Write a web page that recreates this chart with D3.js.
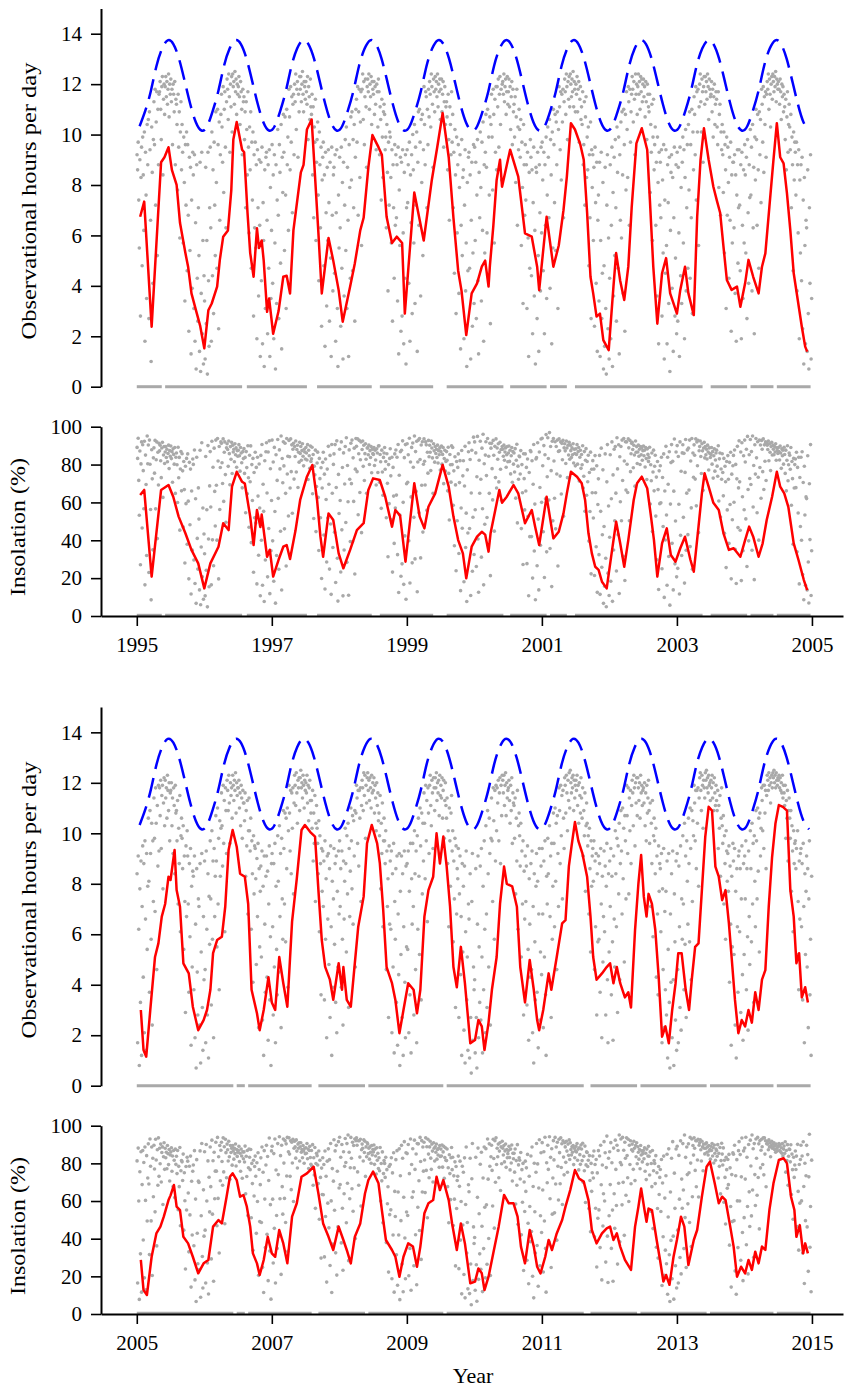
<!DOCTYPE html>
<html><head><meta charset="utf-8">
<script src="https://cdn.jsdelivr.net/npm/d3@7"></script>
<style>body{margin:0;background:#fff}svg{display:block;background:#fff}</style>
</head><body>
<script>
// ---------------- DATA ----------------
const dayLengthMonthly=[10.33,10.94,11.73,12.72,13.41,13.74,13.59,13.01,12.13,11.21,10.49,10.16];
const hoursTicks=[0,2,4,6,8,10,12,14];
const insolTicks=[0,20,40,60,80,100];
const yearTicksA=[1995,1997,1999,2001,2003,2005];
const yearTicksB=[2005,2007,2009,2011,2013,2015];
const yearsA=[1995,1996,1997,1998,1999,2000,2001,2002,2003,2004];
const yearsB=[2005,2006,2007,2008,2009,2010,2011,2012,2013,2014];
const hoursLabel="Observational hours per day";
const insolLabel="Insolation (%)";
const xLabel="Year";

// periods of zero-hour days (decimal years)
const zeroSpansA=[[1995.0,1995.37],[1995.42,1996.56],[1996.63,1997.52],[1997.67,1998.48],[1998.60,1999.39],[1999.59,2000.43],[2000.53,2001.07],[2001.12,2001.37],[2001.49,2003.38],[2003.50,2004.04],[2004.09,2004.43],[2004.48,2004.98]];
const zeroSpansB=[[2005.0,2006.43],[2006.48,2006.60],[2006.65,2007.59],[2007.69,2008.38],[2008.43,2009.54],[2009.59,2011.62],[2011.72,2012.41],[2012.46,2013.44],[2013.49,2014.43],[2014.48,2014.98]];

// daily observation samples, hours in tenths, month groups separated by |
const scatterHoursA=[
"92 86 97 74 55 90 28 83 95 48|99 84 62 101 18 93 76 35 104 88|106 27 109 94 66 10 103 85 41 98|113 96 118 72 105 117 52 110 88 116|117 121 110 98 119 123 84 114 120 108|119 123 115 121 112 118 124 107 120 116|122 113 118 96 120 116 109 121 88 114|112 104 78 116 95 109 59 101 113 86|104 93 57 99 81 34 96 72 101 46|96 68 22 91 54 87 13 74 39 93|84 31 92 18 65 7 88 43 26 71|52 14 89 6 37 93 21 58 9 44",
"34 11 87 25 58 5 93 42 16 71|95 63 18 101 44 86 29 97 72 52|109 81 47 110 96 23 105 66 92 108|116 103 89 119 77 110 117 95 63 113|122 118 106 124 115 93 120 111 123 101|124 119 121 112 125 117 122 108 120 116|119 123 115 104 121 117 110 92 118 113|115 98 109 71 113 102 84 117 95 61|103 86 109 47 97 74 101 28 92 63|97 55 88 19 94 71 36 90 64 12|89 42 95 17 73 58 8 86 31 91|93 66 21 88 47 94 12 79 35 62",
"96 41 84 19 92 57 7 88 33 74|102 68 27 96 85 49 104 15 91 77|108 93 54 107 76 31 110 88 99 62|118 107 86 119 97 115 69 112 116 92|120 113 124 102 118 121 91 116 109 123|118 123 113 120 125 116 109 121 119 114|121 117 112 123 98 119 115 106 122 111|108 116 84 111 67 103 97 114 58 89|98 105 76 42 101 88 63 95 24 82|91 97 48 84 16 93 69 32 87 58|94 73 26 89 51 12 95 68 38 84|87 45 92 18 69 94 31 8 76 55",
"91 63 24 95 47 81 11 89 36 72|98 54 103 31 87 66 12 96 79 43|107 82 109 46 98 71 104 26 91 110|114 97 119 68 109 118 83 105 117 56|118 124 106 121 96 115 122 111 87 119|122 117 124 110 120 115 123 104 121 118|116 121 108 119 112 94 120 117 103 122|117 92 111 106 74 114 99 83 109 112|108 94 99 63 104 85 38 97 72 101|99 83 57 94 26 88 71 43 96 64|92 67 88 34 95 13 78 56 91 22|89 28 94 61 17 85 43 92 9 71",
"94 73 88 41 97 18 84 65 92 29|100 86 57 104 33 95 72 101 14 89|109 64 110 97 36 106 81 108 52 94|119 104 88 117 115 71 110 96 118 107|121 116 103 124 119 112 87 122 117 109|123 118 121 115 124 111 120 117 122 106|118 122 109 116 121 95 113 119 104 111|113 107 86 116 98 66 111 104 92 117|97 108 71 93 45 102 84 29 99 61|88 96 37 79 92 15 64 98 52 83|86 19 72 94 38 57 8 81 46 91|93 47 84 11 66 89 24 53 96 33",
"95 58 89 27 76 98 42 13 85 67|101 79 34 97 62 105 18 88 53 93|108 87 61 110 44 99 76 107 25 104|116 99 78 118 108 57 114 93 119 86|119 111 122 95 116 123 104 118 82 120|121 116 124 113 119 122 108 117 123 112|117 122 111 119 102 115 121 96 118 109|112 99 115 81 107 118 64 103 94 110|102 91 106 56 97 79 33 104 88 68|96 74 88 31 93 59 12 85 47 98|91 44 86 21 73 95 36 62 9 87|85 27 93 52 14 88 69 38 95 61",
"97 82 46 93 21 88 64 99 35 76|103 91 67 106 39 98 84 17 101 55|110 96 73 108 54 105 88 109 31 102|119 111 94 117 82 116 105 118 67 113|122 117 108 124 119 98 121 114 123 111|124 120 115 122 117 125 111 121 118 109|120 116 123 109 118 121 97 114 119 106|111 104 117 88 96 113 72 107 115 83|99 86 103 48 92 67 105 27 94 79|92 58 87 24 95 73 41 89 14 66|76 34 89 12 58 93 27 45 81 7|48 16 87 31 5 72 92 23 59 11",
"43 88 19 64 95 8 77 36 91 52|98 71 26 103 85 47 99 13 92 66|105 59 109 84 37 110 96 22 108 78|117 102 83 119 113 64 118 97 109 116|123 118 105 121 114 92 124 116 120 108|119 124 116 121 110 123 117 122 113 120|122 115 119 107 121 113 98 120 116 111|109 116 77 104 93 112 58 99 114 86|96 103 64 89 36 99 81 17 93 72|89 67 94 28 82 53 96 11 74 45|94 56 17 88 73 33 91 6 62 85|92 39 83 14 67 95 28 51 88 21",
"93 26 87 61 12 95 44 79 33 89|99 57 94 19 83 102 38 71 96 47|104 78 109 43 96 67 110 29 101 86|115 108 92 119 74 117 101 118 56 111|120 124 113 101 122 117 89 119 123 112|123 117 121 114 124 119 106 122 118 115|116 121 109 118 99 115 120 104 112 117|114 103 96 117 79 108 112 68 101 94|104 92 77 101 53 96 86 31 99 68|95 81 43 91 66 97 22 84 57 89|89 63 92 37 84 18 76 94 49 71|94 72 46 88 19 93 64 35 86 57",
"96 84 53 91 27 98 69 41 88 75|102 76 95 38 104 63 87 21 99 82|110 98 64 108 86 47 109 92 106 73|118 112 97 119 85 115 104 117 91 116|121 118 124 110 122 116 103 120 123 114|124 121 117 123 119 125 113 122 120 118|121 118 112 122 117 106 120 115 119 109|116 111 98 114 86 107 117 93 104 112|103 94 108 71 99 88 46 101 82 97|93 76 97 38 88 61 94 19 82 53|88 42 91 23 74 9 83 56 17 66|63 14 86 29 7 71 41 92 11 35"
];
const scatterHoursB=[
"84 17 91 62 8 78 33 89 12 71|95 43 88 21 97 66 14 92 54 79|106 81 37 109 92 58 104 24 97 73|114 98 69 118 104 46 111 87 119 93|118 107 121 94 115 119 78 112 122 103|121 114 118 106 123 117 109 120 97 116|117 120 103 114 92 118 111 84 119 108|109 97 113 72 102 88 115 61 99 106|98 86 103 54 91 73 29 95 67 101|91 72 37 88 59 94 16 79 47 85|83 38 91 19 64 7 86 45 28 74|71 24 88 9 53 92 31 14 67 42",
"89 46 17 93 62 28 84 11 75 56|97 74 32 101 58 89 19 94 67 83|107 89 55 110 72 98 38 105 83 102|116 103 87 119 96 113 61 118 109 92|121 117 109 123 112 96 120 115 118 106|123 119 113 121 117 124 108 120 115 118|118 121 110 116 103 119 114 98 117 112|112 105 116 83 109 95 113 68 101 114|101 93 106 62 97 84 41 99 76 95|94 82 48 90 67 96 23 86 55 77|87 51 93 26 79 12 91 64 37 83|91 43 85 18 72 95 34 59 8 88",
"92 63 28 88 47 96 17 79 54 36|99 81 45 103 67 92 23 98 74 58|109 94 72 108 57 106 86 110 39 101|119 108 93 117 84 116 102 118 76 112|123 119 111 124 116 104 121 118 122 109|122 125 118 120 114 123 119 110 121 117|120 116 123 112 119 105 118 121 113 108|113 102 117 89 108 96 115 73 104 111|102 96 84 105 61 99 88 36 94 77|93 71 89 34 97 58 82 19 91 66|92 48 86 27 95 63 12 81 39 74|94 56 88 33 91 21 77 47 93 68",
"97 71 86 39 93 58 24 89 66 81|102 88 53 99 76 104 31 94 67 85|110 97 78 107 64 105 91 109 47 108|119 114 96 117 87 117 106 118 73 111|121 118 109 124 115 123 98 119 112 122|124 117 121 113 122 118 110 123 116 120|117 122 108 119 114 101 120 111 116 105|108 99 115 78 104 92 112 63 97 106|97 88 101 46 93 71 82 27 95 64|89 62 93 21 84 47 96 13 73 58|86 33 91 16 68 44 92 8 77 52|91 27 84 12 63 93 41 19 87 55",
"88 54 93 21 77 36 96 13 82 64|96 71 28 101 84 46 93 17 99 62|106 83 52 110 95 34 108 76 104 89|116 104 82 119 97 113 65 118 108 92|119 123 111 103 121 116 94 122 118 109|122 118 124 113 120 116 121 107 123 115|119 114 122 106 117 121 98 113 120 111|106 114 88 101 63 110 97 79 108 115|93 101 57 89 74 98 31 95 68 86|82 94 27 76 91 44 67 12 88 53|79 22 87 9 61 93 34 51 14 72|66 11 84 27 5 73 92 18 47 38",
"42 13 86 27 7 64 91 19 55 33|87 26 94 51 13 79 38 97 62 21|103 68 31 109 84 47 106 92 24 98|114 97 73 118 105 58 117 89 119 101|118 112 121 97 116 122 88 119 107 123|121 116 123 111 119 124 107 120 114 117|118 121 113 104 119 109 122 96 116 112|111 98 114 76 106 89 117 62 103 108|99 87 104 51 93 72 97 28 85 66|91 73 87 32 95 54 18 82 64 43|88 46 93 21 71 9 84 57 34 79|92 37 81 15 68 94 26 53 87 44",
"94 68 23 89 51 97 36 12 83 72|98 84 42 103 67 91 27 96 58 79|108 96 63 110 81 104 46 107 92 71|118 109 88 119 99 115 74 117 106 94|122 119 108 123 116 101 121 113 124 110|125 120 116 122 118 123 109 121 114 119|121 117 123 111 119 104 120 115 108 122|114 106 118 91 109 99 116 77 103 112|104 95 99 68 102 86 53 97 79 91|94 81 97 46 89 63 92 28 84 57|91 58 88 37 94 72 19 83 49 67|93 61 87 28 79 96 42 17 84 53",
"89 71 94 36 83 57 18 91 66 47|101 84 63 98 29 95 76 104 42 88|109 93 68 110 82 102 49 107 97 74|119 107 92 118 76 114 101 117 88 111|121 116 103 123 118 95 120 112 122 107|122 118 113 120 106 123 116 119 111 117|118 112 120 103 116 97 119 108 114 121|109 96 112 71 104 88 113 59 99 106|97 84 102 43 91 68 36 95 77 88|86 61 92 17 78 46 94 23 69 38|77 28 89 11 54 92 33 7 68 41|84 19 93 42 8 76 57 26 89 14",
"92 46 17 87 63 31 95 22 74 58|99 72 38 104 56 91 27 97 81 64|106 88 57 110 94 42 109 73 105 99|119 112 97 117 86 117 104 118 79 114|122 124 117 109 123 119 102 121 118 114|124 121 125 118 122 116 123 119 120 113|121 118 123 114 120 109 122 116 111 119|113 109 117 94 111 102 115 83 106 118|103 96 107 72 99 88 58 101 93 81|92 77 95 41 87 64 16 83 55 96|89 52 94 24 77 11 86 63 37 91|93 61 86 29 74 95 44 18 88 52",
"91 74 97 38 86 59 22 93 67 48|101 86 57 104 72 96 33 99 81 63|109 97 74 110 85 106 53 108 91 102|118 113 101 119 94 119 108 117 86 115|123 121 117 124 119 122 112 120 123 118|124 122 125 120 123 118 124 121 119 122|121 123 118 122 117 120 116 123 114 119|116 111 119 98 113 106 117 89 109 114|106 98 109 77 103 93 61 101 88 96|97 86 94 52 101 73 38 89 66 92|94 63 88 34 96 71 17 84 52 77|91 47 86 23 74 97 36 58 12 83"
];

// running means: [decimal year, value]
const redHoursA=[[1995.05,6.74],[1995.11,7.34],[1995.22,2.38],[1995.36,8.9],[1995.41,9.1],[1995.47,9.5],[1995.52,8.6],[1995.59,8.0],[1995.64,6.5],[1995.72,5.3],[1995.76,4.76],[1995.81,3.7],[1995.89,2.9],[1995.94,2.4],[1996.0,1.52],[1996.06,3.03],[1996.11,3.3],[1996.19,3.97],[1996.23,5.03],[1996.28,5.95],[1996.35,6.2],[1996.40,7.8],[1996.43,9.8],[1996.48,10.5],[1996.56,9.4],[1996.59,9.3],[1996.64,6.9],[1996.68,5.3],[1996.73,4.36],[1996.78,6.28],[1996.81,5.5],[1996.85,5.8],[1996.88,5.0],[1996.93,2.97],[1996.96,3.5],[1997.02,2.1],[1997.10,3.0],[1997.17,4.36],[1997.22,4.4],[1997.27,3.7],[1997.32,6.2],[1997.43,8.5],[1997.47,8.8],[1997.52,10.2],[1997.59,10.6],[1997.69,6.1],[1997.74,3.7],[1997.84,5.9],[1997.91,5.0],[1997.99,3.83],[1998.05,2.58],[1998.16,3.97],[1998.23,4.9],[1998.31,6.2],[1998.36,6.7],[1998.43,8.7],[1998.49,9.98],[1998.58,9.5],[1998.63,9.2],[1998.70,6.74],[1998.78,5.7],[1998.85,5.95],[1998.93,5.7],[1998.97,2.9],[1999.11,7.7],[1999.25,5.8],[1999.37,8.2],[1999.45,9.5],[1999.53,10.85],[1999.62,9.1],[1999.69,6.7],[1999.76,4.6],[1999.81,3.8],[1999.88,2.05],[1999.96,3.7],[2000.04,4.1],[2000.11,4.76],[2000.16,5.0],[2000.21,3.97],[2000.23,4.8],[2000.28,6.35],[2000.33,8.2],[2000.38,9.0],[2000.41,7.93],[2000.53,9.4],[2000.65,8.33],[2000.75,6.08],[2000.85,5.95],[2000.93,4.76],[2000.96,3.83],[2001.07,6.74],[2001.17,4.76],[2001.25,5.6],[2001.32,7.0],[2001.37,8.33],[2001.43,10.45],[2001.49,10.2],[2001.57,9.6],[2001.62,9.0],[2001.67,6.9],[2001.72,4.36],[2001.76,3.7],[2001.81,2.78],[2001.86,2.9],[2001.91,1.85],[2001.99,1.45],[2002.06,3.97],[2002.10,5.3],[2002.16,4.2],[2002.22,3.44],[2002.28,4.76],[2002.33,7.1],[2002.40,9.65],[2002.48,10.25],[2002.56,9.4],[2002.60,7.4],[2002.65,4.76],[2002.71,2.5],[2002.78,4.5],[2002.84,5.1],[2002.90,3.7],[2003.0,2.9],[2003.05,3.84],[2003.12,4.76],[2003.17,3.7],[2003.25,2.84],[2003.30,6.74],[2003.35,9.0],[2003.40,10.25],[2003.47,9.0],[2003.54,7.93],[2003.59,7.4],[2003.64,6.9],[2003.69,5.55],[2003.74,4.23],[2003.81,3.84],[2003.89,3.97],[2003.94,3.17],[2004.01,4.1],[2004.06,5.03],[2004.13,4.36],[2004.21,3.7],[2004.26,4.76],[2004.31,5.29],[2004.37,7.14],[2004.43,9.0],[2004.48,10.45],[2004.53,9.1],[2004.58,8.86],[2004.63,7.67],[2004.68,6.2],[2004.73,4.5],[2004.79,3.44],[2004.85,2.38],[2004.90,1.59],[2004.93,1.39]];
const redInsolA=[[1995.05,63.9],[1995.11,66.6],[1995.22,20.8],[1995.36,66.6],[1995.47,69.2],[1995.54,63],[1995.62,52.5],[1995.72,43.7],[1995.81,34.9],[1995.91,27.8],[1996.0,14.6],[1996.09,27.8],[1996.21,36.6],[1996.28,49],[1996.36,45.4],[1996.41,68.3],[1996.48,76.2],[1996.56,70.9],[1996.60,70],[1996.68,52.5],[1996.73,37.5],[1996.78,56],[1996.83,47],[1996.85,53.6],[1996.93,31.3],[1996.97,35],[1997.02,20.8],[1997.10,29.7],[1997.17,36.6],[1997.22,37.5],[1997.27,30.1],[1997.35,45],[1997.42,61.3],[1997.52,73.6],[1997.60,79.8],[1997.67,61.3],[1997.72,41.9],[1997.76,31.3],[1997.84,54.2],[1997.91,50.7],[1997.99,33.1],[1998.06,25.2],[1998.16,34.9],[1998.26,45.4],[1998.36,49],[1998.43,66.6],[1998.50,72.7],[1998.60,71.8],[1998.68,63],[1998.78,47.2],[1998.83,56],[1998.90,53],[1998.98,28.7],[1999.11,70.1],[1999.19,52.5],[1999.26,46.3],[1999.32,57.7],[1999.42,64.8],[1999.53,79.8],[1999.62,68.3],[1999.69,52.5],[1999.76,40.1],[1999.83,33.1],[1999.88,19.9],[1999.96,36.6],[2000.04,41.9],[2000.11,44.5],[2000.16,43],[2000.21,34],[2000.24,43.7],[2000.31,56],[2000.37,66.6],[2000.41,59.8],[2000.48,63],[2000.58,69.2],[2000.65,64.8],[2000.75,49],[2000.85,56],[2000.90,47.2],[2000.96,37.5],[2001.07,63],[2001.17,41],[2001.25,44.5],[2001.32,54.2],[2001.37,64.8],[2001.43,76.2],[2001.52,73.6],[2001.59,70.1],[2001.64,61.3],[2001.69,43.7],[2001.74,33.1],[2001.79,26],[2001.84,24.4],[2001.89,18.1],[2001.96,14.6],[2002.04,34.9],[2002.10,49.8],[2002.16,38.4],[2002.22,26],[2002.28,40.1],[2002.36,61.3],[2002.41,70.1],[2002.48,73.6],[2002.56,67.5],[2002.61,54.2],[2002.66,40.1],[2002.71,20.8],[2002.78,38.4],[2002.85,46.3],[2002.91,32.2],[2002.98,28.7],[2003.05,35.8],[2003.12,41.9],[2003.20,29.7],[2003.25,23.4],[2003.32,47.2],[2003.37,64.8],[2003.41,75.4],[2003.47,68.3],[2003.54,59.8],[2003.62,56],[2003.69,43.7],[2003.77,34.9],[2003.84,35.8],[2003.94,31.3],[2004.01,40.1],[2004.07,47.2],[2004.13,41.9],[2004.21,31.3],[2004.27,38.4],[2004.33,50.7],[2004.41,63],[2004.48,76.2],[2004.53,68.3],[2004.59,64.8],[2004.65,57.7],[2004.73,38.4],[2004.80,29.7],[2004.88,19],[2004.93,13.7]];
const redHoursB=[[2005.06,3.0],[2005.10,1.41],[2005.14,1.15],[2005.20,3.0],[2005.27,5.1],[2005.32,5.64],[2005.37,6.7],[2005.42,7.2],[2005.47,8.28],[2005.50,8.15],[2005.56,9.34],[2005.59,7.75],[2005.64,7.09],[2005.69,4.85],[2005.77,4.45],[2005.83,3.13],[2005.91,2.2],[2005.99,2.6],[2006.04,3.0],[2006.09,3.8],[2006.13,5.25],[2006.19,5.77],[2006.26,5.9],[2006.31,7.09],[2006.36,9.34],[2006.42,10.13],[2006.48,9.47],[2006.53,8.4],[2006.60,8.28],[2006.65,7.2],[2006.70,3.8],[2006.78,2.87],[2006.82,2.2],[2006.88,3.0],[2006.95,4.3],[2007.0,3.3],[2007.05,3.0],[2007.11,5.1],[2007.17,4.06],[2007.23,3.13],[2007.30,6.5],[2007.37,8.2],[2007.44,10.13],[2007.49,10.33],[2007.57,10.05],[2007.64,9.87],[2007.69,7.75],[2007.74,5.77],[2007.79,4.71],[2007.86,4.2],[2007.91,3.4],[2007.99,4.85],[2008.04,3.8],[2008.06,4.7],[2008.11,3.4],[2008.17,3.13],[2008.22,4.58],[2008.28,6.3],[2008.36,7.49],[2008.41,9.6],[2008.48,10.33],[2008.56,9.6],[2008.60,8.81],[2008.65,6.96],[2008.70,4.7],[2008.78,4.06],[2008.83,3.4],[2008.89,2.08],[2008.95,3.0],[2009.02,4.06],[2009.10,3.8],[2009.15,2.87],[2009.20,3.8],[2009.26,6.7],[2009.32,7.75],[2009.39,8.28],[2009.44,10.0],[2009.49,8.8],[2009.54,9.87],[2009.59,8.68],[2009.64,7.09],[2009.69,4.7],[2009.74,3.9],[2009.80,5.5],[2009.86,4.06],[2009.94,1.68],[2010.01,1.81],[2010.06,2.6],[2010.11,2.35],[2010.15,1.41],[2010.21,2.5],[2010.26,3.8],[2010.33,5.1],[2010.38,7.2],[2010.44,8.68],[2010.48,8.0],[2010.56,7.9],[2010.63,7.09],[2010.68,4.7],[2010.75,3.3],[2010.82,4.98],[2010.88,3.8],[2010.93,2.6],[2010.96,2.2],[2011.02,3.0],[2011.10,4.45],[2011.14,3.8],[2011.22,5.1],[2011.30,6.43],[2011.35,6.56],[2011.40,8.7],[2011.44,9.5],[2011.49,10.45],[2011.54,9.7],[2011.60,9.2],[2011.67,8.28],[2011.72,6.7],[2011.76,5.1],[2011.81,4.2],[2011.89,4.45],[2011.96,4.7],[2012.01,4.85],[2012.06,4.06],[2012.11,4.7],[2012.16,4.06],[2012.23,3.5],[2012.28,3.7],[2012.32,3.1],[2012.38,6.17],[2012.43,8.02],[2012.47,9.14],[2012.51,7.49],[2012.55,6.7],[2012.58,7.6],[2012.63,7.2],[2012.68,6.17],[2012.73,4.3],[2012.78,1.94],[2012.83,2.35],[2012.88,1.68],[2012.93,3.0],[2012.98,4.06],[2013.02,5.25],[2013.07,5.25],[2013.13,3.8],[2013.18,3.0],[2013.22,4.2],[2013.27,5.5],[2013.32,5.64],[2013.37,7.75],[2013.42,9.87],[2013.47,11.05],[2013.52,10.9],[2013.57,8.68],[2013.62,8.28],[2013.67,7.35],[2013.72,7.75],[2013.77,6.43],[2013.81,5.1],[2013.86,3.4],[2013.91,2.08],[2013.96,2.6],[2014.01,2.35],[2014.06,3.0],[2014.11,2.5],[2014.16,3.7],[2014.21,3.0],[2014.26,4.2],[2014.31,4.58],[2014.36,7.09],[2014.41,9.07],[2014.46,10.4],[2014.51,11.12],[2014.57,11.05],[2014.63,10.9],[2014.68,7.75],[2014.73,6.7],[2014.77,4.85],[2014.81,5.25],[2014.85,3.5],[2014.90,3.9],[2014.94,3.3]];
const redInsolB=[[2005.06,28.7],[2005.10,12.7],[2005.15,10.1],[2005.22,30.4],[2005.29,42.8],[2005.35,46.4],[2005.40,51.7],[2005.47,60.5],[2005.50,63],[2005.55,68.5],[2005.59,57],[2005.64,55.2],[2005.69,41],[2005.76,37.5],[2005.83,30.4],[2005.91,21.6],[2005.99,26.9],[2006.06,28.7],[2006.13,46.4],[2006.21,49.9],[2006.26,48.1],[2006.33,62.3],[2006.38,72.9],[2006.42,74.7],[2006.48,71.1],[2006.53,62.3],[2006.58,63.2],[2006.63,57],[2006.68,46.4],[2006.72,32.2],[2006.78,26.9],[2006.82,20.7],[2006.88,28.7],[2006.94,41],[2007.0,32.2],[2007.05,30.4],[2007.11,44.6],[2007.17,37.5],[2007.23,26.9],[2007.30,51.7],[2007.37,58.8],[2007.44,72.9],[2007.52,74.7],[2007.62,78.2],[2007.69,64],[2007.76,48.1],[2007.84,41],[2007.91,34],[2007.99,46.4],[2008.06,39.3],[2008.11,34],[2008.17,26.9],[2008.23,41],[2008.31,48.1],[2008.38,64],[2008.43,71.1],[2008.50,75.6],[2008.58,69.4],[2008.63,55.2],[2008.69,39.3],[2008.78,34],[2008.83,30.4],[2008.89,19.8],[2008.95,30.4],[2009.02,37.5],[2009.09,35.8],[2009.15,25.1],[2009.20,35.8],[2009.26,53.5],[2009.32,58.8],[2009.39,60.5],[2009.44,72.9],[2009.49,65.8],[2009.54,71.1],[2009.62,60.5],[2009.67,48.1],[2009.74,34],[2009.80,48.1],[2009.86,37.5],[2009.94,16.3],[2010.01,17.2],[2010.06,24.2],[2010.11,21.6],[2010.15,12.7],[2010.21,19.8],[2010.28,32.2],[2010.36,46.4],[2010.41,57],[2010.44,63.2],[2010.51,58.8],[2010.58,58.8],[2010.64,51.7],[2010.69,35.8],[2010.75,26.9],[2010.82,44.6],[2010.88,35.8],[2010.93,25.1],[2010.98,21.6],[2011.05,30.4],[2011.10,39.3],[2011.15,34],[2011.22,42.8],[2011.30,49.9],[2011.35,57],[2011.42,65.8],[2011.49,76.5],[2011.55,72],[2011.62,70.3],[2011.69,60.5],[2011.74,44.6],[2011.81,37.5],[2011.89,42.8],[2011.96,45.5],[2012.01,46.4],[2012.06,39.3],[2012.11,42.8],[2012.16,35.8],[2012.23,28.7],[2012.32,23.4],[2012.38,46.4],[2012.43,57],[2012.47,66.7],[2012.52,55.2],[2012.55,49],[2012.58,56],[2012.63,55.2],[2012.70,39.3],[2012.75,28.7],[2012.80,17.2],[2012.84,20.7],[2012.89,15.5],[2012.95,30.4],[2013.0,39.3],[2013.06,51.7],[2013.11,46.4],[2013.17,26],[2013.25,39.3],[2013.30,44.6],[2013.37,62.3],[2013.44,78.2],[2013.49,80.9],[2013.56,69.4],[2013.62,58.8],[2013.67,62.3],[2013.72,60.5],[2013.79,46.4],[2013.84,35.8],[2013.89,19.8],[2013.95,25.1],[2014.01,21.6],[2014.06,28.7],[2014.11,23.4],[2014.16,33.1],[2014.21,26.9],[2014.26,35.8],[2014.31,34],[2014.37,55.2],[2014.43,69.4],[2014.51,81.8],[2014.58,82.7],[2014.63,80],[2014.69,62.3],[2014.74,55.2],[2014.77,41],[2014.82,47.2],[2014.87,32.2],[2014.90,37.5],[2014.94,32.2]];

// ---------------- DRAWING ----------------
const W=844,H=1389;
const FONT='"Liberation Serif","Times New Roman",serif';
const GRAY="#a9a9a9";
const svg=d3.select("body").append("svg").attr("width",W).attr("height",H);
svg.append("rect").attr("width",W).attr("height",H).attr("fill","#fff");

function styleAxis(g){
  g.attr("font-family",FONT).attr("font-size",21);
  g.select(".domain").attr("stroke","#000").attr("stroke-width",2);
  g.selectAll(".tick line").attr("stroke","#000").attr("stroke-width",1.6);
  g.selectAll(".tick text").attr("fill","#000");
}

function drawBlock(o){
  const x=d3.scaleLinear().domain(o.xDomain).range([101,843]);
  const yH=d3.scaleLinear().domain([0,15]).range(o.hRange);
  const yI=d3.scaleLinear().domain([0,100]).range(o.iRange);

  const pts=[];
  o.years.forEach((yr,k)=>{
    o.scatter[k].split("|").forEach((grp,m)=>{
      const vals=grp.trim().split(/\s+/).map(Number);
      vals.forEach((v,i)=>{
        const h=v/10;
        pts.push({t:yr+(m+(i+0.5)/vals.length)/12,h:h,ins:h/dayLengthMonthly[m]*100});
      });
    });
  });
  const dl=[];
  o.years.forEach(yr=>dayLengthMonthly.forEach((d,m)=>dl.push([yr+(m+0.5)/12,d])));

  // ---- hours panel ----
  const gh=svg.append("g");
  gh.selectAll("line.zero").data(o.zero).join("line").attr("class","zero")
    .attr("x1",d=>x(d[0])).attr("x2",d=>x(d[1])).attr("y1",yH(0)).attr("y2",yH(0))
    .attr("stroke",GRAY).attr("stroke-width",3);
  gh.selectAll("circle").data(pts).join("circle")
    .attr("cx",d=>x(d.t)).attr("cy",d=>yH(d.h)).attr("r",1.8).attr("fill",GRAY);
  gh.append("path").datum(o.redH)
    .attr("d",d3.line().x(d=>x(d[0])).y(d=>yH(d[1])))
    .attr("fill","none").attr("stroke","#ff0000").attr("stroke-width",2.5).attr("stroke-linejoin","round");
  gh.append("path").datum(dl)
    .attr("d",d3.line().curve(d3.curveNatural).x(d=>x(d[0])).y(d=>yH(d[1])))
    .attr("fill","none").attr("stroke","#0000ff").attr("stroke-width",2.5).attr("stroke-dasharray","20 9");
  const ah=gh.append("g").attr("transform","translate(101,0)")
    .call(d3.axisLeft(yH).tickValues(hoursTicks).tickSize(10).tickSizeOuter(0).tickPadding(9));
  styleAxis(ah);
  gh.append("text").attr("transform",`translate(36,${o.hLabelY}) rotate(-90)`)
    .attr("text-anchor","middle").attr("font-family",FONT).attr("font-size",22)
    .attr("textLength",277).attr("lengthAdjust","spacingAndGlyphs").text(hoursLabel);

  // ---- insolation panel ----
  const gi=svg.append("g");
  gi.selectAll("line.zero").data(o.zero).join("line").attr("class","zero")
    .attr("x1",d=>x(d[0])).attr("x2",d=>x(d[1])).attr("y1",yI(0)-1).attr("y2",yI(0)-1)
    .attr("stroke",GRAY).attr("stroke-width",2.4);
  gi.selectAll("circle").data(pts).join("circle")
    .attr("cx",d=>x(d.t)).attr("cy",d=>yI(d.ins)).attr("r",1.8).attr("fill",GRAY);
  gi.append("path").datum(o.redI)
    .attr("d",d3.line().x(d=>x(d[0])).y(d=>yI(d[1])))
    .attr("fill","none").attr("stroke","#ff0000").attr("stroke-width",2.5).attr("stroke-linejoin","round");
  const ai=gi.append("g").attr("transform","translate(101,0)")
    .call(d3.axisLeft(yI).tickValues(insolTicks).tickSize(10).tickSizeOuter(0).tickPadding(9));
  styleAxis(ai);
  const ax=gi.append("g").attr("transform",`translate(0,${o.iRange[0]})`)
    .call(d3.axisBottom(x).tickValues(o.xTicks).tickSize(10).tickSizeOuter(0).tickPadding(11).tickFormat(d3.format("d")));
  styleAxis(ax);
  gi.append("text").attr("transform",`translate(25,${o.iLabelY}) rotate(-90)`)
    .attr("text-anchor","middle").attr("font-family",FONT).attr("font-size",22)
    .attr("textLength",138).attr("lengthAdjust","spacingAndGlyphs").text(insolLabel);
}

drawBlock({xDomain:[1994.47,2005.46],hRange:[386.7,8.5],iRange:[616,426.7],years:yearsA,scatter:scatterHoursA,
  zero:zeroSpansA,redH:redHoursA,redI:redInsolA,xTicks:yearTicksA,hLabelY:201,iLabelY:527});
drawBlock({xDomain:[2004.47,2015.46],hRange:[1085.7,707.1],iRange:[1314,1125.7],years:yearsB,scatter:scatterHoursB,
  zero:zeroSpansB,redH:redHoursB,redI:redInsolB,xTicks:yearTicksB,hLabelY:900,iLabelY:1226});

svg.append("text").attr("x",473).attr("y",1383).attr("text-anchor","middle")
  .attr("font-family",FONT).attr("font-size",22).text(xLabel);
</script>
</body></html>
